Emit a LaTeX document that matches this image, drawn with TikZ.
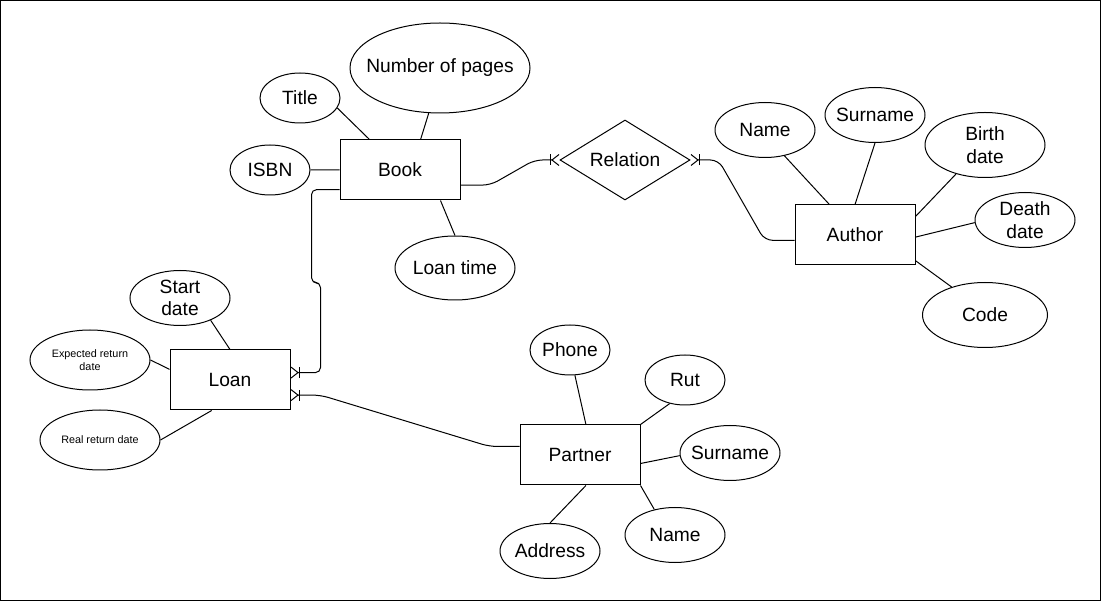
\documentclass[tikz,border=0pt]{standalone}
\usepackage{fontspec}
\setmainfont{Liberation Sans}
\usetikzlibrary{positioning, calc, shapes.geometric, arrows.meta}

\begin{document}
\begin{tikzpicture}[x=1pt, y=-1pt, line width=1pt, font=\fontsize{19.2}{22.5}\selectfont,
			entity/.style={draw, rectangle, minimum width=120pt, minimum height=60pt, inner sep=0pt},
			attr/.style 2 args={draw, ellipse, align=center, inner xsep=-20pt, inner ysep=-6pt,
				minimum width=#1pt, minimum height=#2pt},
			relship/.style={draw, diamond, aspect=1.625, minimum width=130pt, minimum height=80pt, inner sep=0pt},
			small/.style={font=\fontsize{10.8}{12.5}\selectfont},
			many/.style={-{Bar[width=11pt,sep=0pt]Straight Barb[reversed,length=7pt,width=11pt]}},
			link/.style={rounded corners=8pt} ]
			\useasboundingbox (0,0) rectangle (1101,601);
			\draw (0.5,0.5) rectangle (1100.5,600.5);
			
			%Entidades:
			\node[entity]               (book)     at (400,170)  {Book};
			\node[relship]              (relation) at (625,160)  {\raisebox{-3pt}{Relation}};
			\node[entity]               (author)   at (855,235)  {Author};
			\node[entity]               (loan)     at (230,380)  {Loan};
			\node[entity]               (partner)  at (580,455)  {Partner};
			
			%Atributos:
			\node[attr={80}{50}]        (title)    at (300,98)   {Title};
			\node[attr={180}{90}]       (pages)    at (440,68)   {Number of pages};
			\node[attr={80}{50}]        (isbn)     at (270,170)  {ISBN};
			\node[attr={120}{64}]       (loantime) at (455,268)  {Loan time};
			\node[attr={100}{55}]       (aname)    at (765,130)  {Name};
			\node[attr={100}{55}]       (asurname) at (875,115)  {Surname};
			\node[attr={120}{65}]       (birth)    at (985,145)  {Birth\\date};
			\node[attr={100}{55}]       (death)    at (1025,220) {Death\\date};
			\node[attr={125}{65}]       (code)     at (985,315)  {Code};
			\node[attr={100}{55}]       (start)    at (180,298)  {Start\\date};
			\node[attr={120}{60}, small] (expected) at (90,360)  {Expected return\\date};
			\node[attr={120}{60}, small] (real)    at (100,440)  {Real return date};
			\node[attr={80}{50}]        (phone)    at (570,350)  {Phone};
			\node[attr={80}{50}]        (rut)      at (685,380)  {Rut};
			\node[attr={100}{55}]       (psurname) at (730,453)  {Surname};
			\node[attr={100}{55}]       (pname)    at (675,535)  {Name};
			\node[attr={100}{55}]       (address)  at (550,551)  {Address};
			
			\draw (title.-15) -- (book.135)
			(pages.-104) -- (book.56)
			(isbn) -- (book)
			(loantime.north) -- (book.-37)
			(aname.-53) -- (author.130)
			(asurname.south) -- (author.north)
			(birth.-135) -- (author.17)
			(death.183) -- (author.-2)
			(code.140) -- (author.-23)
			(start.-36) -- (loan.north)
			(expected.east) -- (loan.170)
			(real.east) -- (loan.239)
			(phone.-79) -- (partner.79)
			(rut.-123) -- (partner.north east)
			(psurname.183) -- (partner.-8)
			(pname.129) -- (partner.south east)
			(address.north) -- (partner.-79);
			
			%Relacionamentos:
			\draw[many, link] (book.-14) -- ++(30,0) -- ($(relation.west)+(-25,0)$) -- (relation.west);
			\draw[many, link] (author.185) -- ++(-30,0) -- ($(relation.east)+(28,0)$) -- (relation.east);
			\draw[many, rounded corners=5pt] (book.198) -- ++(-28,0) -- ++(0,93) -- ++(9,0) |- (loan.7);
			\draw[many, link] (partner.172) -- ++(-30,0) -- ($(loan.-14)+(30,0)$) -- (loan.-14);
		\end{tikzpicture}
\end{document}
